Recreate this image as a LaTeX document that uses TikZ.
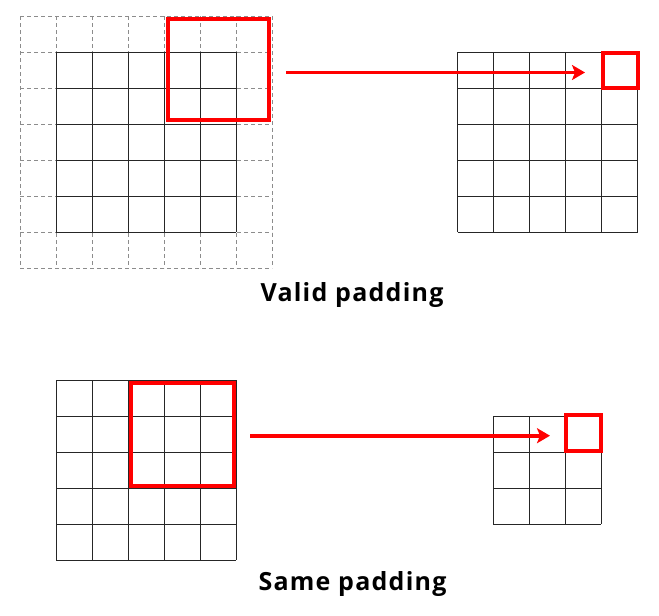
\documentclass[tikz,border=0pt]{standalone}
\usepackage{fontspec}
\usepackage{tikz}
\usetikzlibrary{arrows.meta}
\newfontfamily\capfont{Open Sans}[LetterSpace=5]

\tikzset{
  padline/.style={draw=gray!90, line width=0.9pt, dash pattern=on 4pt off 3pt},
  cellline/.style={draw=black!85, line width=0.9pt},
  window/.style={draw=red, line width=4pt, minimum size=#1, inner sep=0pt, outer sep=0pt},
  slide/.style={draw=red, line width=3.6pt, -{Stealth[length=13pt,width=15pt,inset=3pt]}},
  caption/.style={font=\capfont\bfseries\fontsize{25}{29}\selectfont, anchor=base, inner sep=0pt}
}

\begin{document}
\begin{tikzpicture}[x=1pt, y=-1pt]
  \useasboundingbox (0,0) rectangle (659,616);

  % padded input (top)
  \foreach \i in {0,...,7} {
    \draw[padline] (20+36*\i,16) -- (20+36*\i,268);
    \draw[padline] (20,16+36*\i) -- (272,16+36*\i);
  }
  \foreach \i in {0,...,5} {
    \draw[cellline] (56+36*\i,52) -- (56+36*\i,232);
    \draw[cellline] (56,52+36*\i) -- (236,52+36*\i);
  }
  % output (top)
  \foreach \i in {0,...,5} {
    \draw[cellline] (457.5+36*\i,52.3) -- (457.5+36*\i,232.3);
    \draw[cellline] (457.5,52.3+36*\i) -- (637.5,52.3+36*\i);
  }
  \node[window=101pt] (win1) at (218,69.5) {};
  \node[window=35pt] (out1) at (620.5,70.5) {};
  \coordinate (from1) at (286,72.5);
  \coordinate (to1) at (585,72.5);
  \draw[slide] (from1) -- (to1);
  \node[caption] (valid) at (352,301.7) {Valid padding};

  % input (bottom)
  \foreach \i in {0,...,5} {
    \draw[cellline] (56.3+36*\i,380.3) -- (56.3+36*\i,560.3);
    \draw[cellline] (56.3,380.3+36*\i) -- (236.3,380.3+36*\i);
  }
  % output (bottom)
  \foreach \i in {0,...,3} {
    \draw[cellline] (493.3+36*\i,416.3) -- (493.3+36*\i,524.3);
    \draw[cellline] (493.3,416.3+36*\i) -- (601.3,416.3+36*\i);
  }
  \node[window=103pt] (win2) at (182.5,434) {};
  \node[window=35.5pt] (out2) at (583.7,433) {};
  \coordinate (from2) at (250,435.7);
  \coordinate (to2) at (550,435.7);
  \draw[slide] (from2) -- (to2);
  \node[caption] (same) at (352.5,590.7) {Same padding};
\end{tikzpicture}
\end{document}
